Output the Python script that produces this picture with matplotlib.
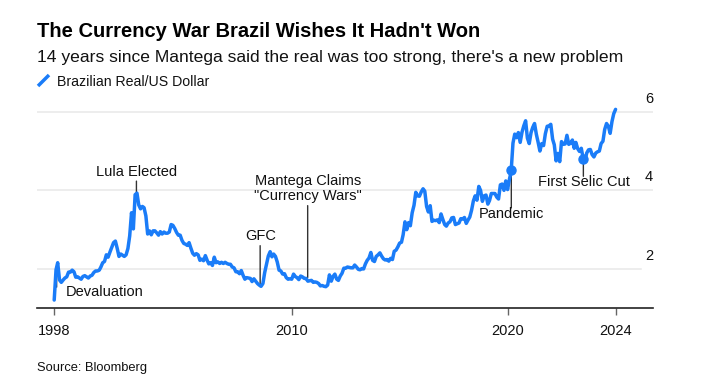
import numpy as np
import pandas as pd
import matplotlib
matplotlib.use('Agg')
import matplotlib.pyplot as plt
from matplotlib.lines import Line2D

plt.rcParams['font.family'] = ['Liberation Sans', 'DejaVu Sans']

# ---------------- data ----------------
start_date = '1998-12-31'
start_value = 1.21
years = list(range(1999, 2025))
brl_1999 = [1.98, 2.16, 1.72, 1.66, 1.72, 1.77, 1.80, 1.92, 1.92, 1.97, 1.93, 1.79]
brl_2000 = [1.80, 1.77, 1.74, 1.81, 1.83, 1.80, 1.77, 1.82, 1.84, 1.91, 1.95, 1.95]
brl_2001 = [1.97, 2.05, 2.16, 2.19, 2.36, 2.30, 2.43, 2.55, 2.67, 2.71, 2.53, 2.32]
brl_2002 = [2.38, 2.35, 2.32, 2.36, 2.52, 2.84, 3.43, 3.02, 3.89, 3.93, 3.63, 3.53]
brl_2003 = [3.59, 3.56, 3.35, 2.89, 2.97, 2.87, 2.97, 2.97, 2.92, 2.86, 2.95, 2.89]
brl_2004 = [2.94, 2.91, 2.91, 2.94, 3.13, 3.11, 3.03, 2.93, 2.86, 2.86, 2.73, 2.65]
brl_2005 = [2.63, 2.60, 2.67, 2.53, 2.40, 2.35, 2.39, 2.36, 2.22, 2.25, 2.21, 2.34]
brl_2006 = [2.22, 2.13, 2.16, 2.09, 2.30, 2.16, 2.18, 2.14, 2.17, 2.14, 2.17, 2.14]
brl_2007 = [2.12, 2.12, 2.05, 2.03, 1.93, 1.93, 1.88, 1.96, 1.84, 1.74, 1.78, 1.77]
brl_2008 = [1.76, 1.68, 1.75, 1.69, 1.63, 1.59, 1.56, 1.63, 1.91, 2.12, 2.33, 2.44]
brl_2009 = [2.31, 2.38, 2.32, 2.18, 1.97, 1.95, 1.87, 1.88, 1.78, 1.74, 1.75, 1.74]
brl_2010 = [1.87, 1.81, 1.78, 1.73, 1.82, 1.80, 1.76, 1.76, 1.69, 1.70, 1.71, 1.66]
brl_2011 = [1.67, 1.66, 1.63, 1.57, 1.58, 1.56, 1.55, 1.59, 1.85, 1.69, 1.81, 1.87]
brl_2012 = [1.74, 1.71, 1.82, 1.89, 2.02, 2.02, 2.05, 2.04, 2.03, 2.03, 2.10, 2.05]
brl_2013 = [1.99, 1.98, 2.01, 2.00, 2.13, 2.22, 2.28, 2.42, 2.22, 2.19, 2.32, 2.36]
brl_2014 = [2.41, 2.33, 2.26, 2.23, 2.24, 2.20, 2.27, 2.24, 2.45, 2.48, 2.56, 2.66]
brl_2015 = [2.68, 2.87, 3.20, 3.00, 3.18, 3.10, 3.43, 3.62, 3.95, 3.86, 3.85, 3.96]
brl_2016 = [4.04, 3.98, 3.59, 3.45, 3.61, 3.21, 3.24, 3.23, 3.25, 3.18, 3.40, 3.26]
brl_2017 = [3.13, 3.09, 3.17, 3.20, 3.30, 3.31, 3.13, 3.15, 3.17, 3.28, 3.27, 3.31]
brl_2018 = [3.16, 3.24, 3.32, 3.49, 3.73, 3.86, 3.75, 4.10, 4.00, 3.72, 3.86, 3.88]
brl_2019 = [3.65, 3.74, 3.92, 3.92, 3.92, 3.83, 3.78, 4.14, 4.16, 4.00, 4.24, 4.02]
brl_2020 = [4.28, 4.48, 5.20, 5.43, 5.34, 5.47, 5.22, 5.48, 5.64, 5.77, 5.33, 5.19]
brl_2021 = [5.47, 5.60, 5.70, 5.43, 5.22, 5.00, 5.19, 5.14, 5.44, 5.63, 5.64, 5.68]
brl_2022 = [5.30, 5.16, 4.75, 4.94, 4.73, 5.24, 5.17, 5.18, 5.40, 5.17, 5.20, 5.28]
brl_2023 = [5.07, 5.22, 5.06, 4.99, 5.07, 4.82, 4.75, 4.95, 5.03, 5.04, 4.91, 4.85]
brl_2024 = [4.95, 4.98, 5.00, 5.19, 5.25, 5.55, 5.70, 5.63, 5.45, 5.75, 5.95, 6.06]
values_by_year = [brl_1999, brl_2000, brl_2001, brl_2002, brl_2003, brl_2004,
                  brl_2005, brl_2006, brl_2007, brl_2008, brl_2009, brl_2010,
                  brl_2011, brl_2012, brl_2013, brl_2014, brl_2015, brl_2016,
                  brl_2017, brl_2018, brl_2019, brl_2020, brl_2021, brl_2022,
                  brl_2023, brl_2024]

event_labels = ['Devaluation', 'Lula Elected', 'GFC',
                'Mantega Claims\n"Currency Wars"', 'Pandemic', 'First Selic Cut']
event_dates = ['1999-02-10', '2002-10-22', '2008-07-15',
               '2010-09-27', '2020-03-03', '2023-07-05']
event_values = [1.92, 3.93, 1.55, 1.78, 4.52, 4.79]
event_dots = [False, False, False, False, True, True]

x_tick_dates = ['1998-12-31', '2010-01-01', '2020-01-01', '2024-12-31']
x_tick_labels = ['1998', '2010', '2020', '2024']
y_ticks = [2, 4, 6]

title = "The Currency War Brazil Wishes It Hadn't Won"
subtitle = "14 years since Mantega said the real was too strong, there's a new problem"
legend_label = 'Brazilian Real/US Dollar'
source = 'Source: Bloomberg'

# ---------------- build series ----------------
dates = [pd.Timestamp(start_date)]
values = [start_value]
for yr, vals in zip(years, values_by_year):
    for m, v in enumerate(vals, start=1):
        dates.append(pd.Timestamp(year=yr, month=m, day=1) + pd.offsets.MonthEnd(0))
        values.append(v)
series = pd.Series(values, index=pd.DatetimeIndex(dates))

# ---------------- figure ----------------
W, H = 706, 390
fig = plt.figure(figsize=(W / 100, H / 100), dpi=100)
fig.patch.set_facecolor('white')

ax_left, ax_right, ax_bottom, ax_top = 37, 653, 308.3, 96
ax = fig.add_axes([ax_left / W, 1 - ax_bottom / H,
                   (ax_right - ax_left) / W, (ax_bottom - ax_top) / H])

BLUE = '#1a7cf8'
DARK = '#333333'

ax.set_ylim(1.0, 6.4)
ax.set_xlim(pd.Timestamp('1998-03-15'), pd.Timestamp('2026-09-25'))

for yt in y_ticks:
    ax.axhline(yt, color='#e8e8e8', lw=1.1, zorder=0,
               xmax=0.98 if yt == 2 else 1.0)
    ax.annotate(str(yt), xy=(1.0, yt), xycoords=('axes fraction', 'data'),
                xytext=(0, 6), textcoords='offset pixels',
                ha='right', va='bottom', fontsize=10.5, color='#111111')

ax.plot(series.index, series.values, color=BLUE, lw=2.5, zorder=3,
        solid_joinstyle='round', solid_capstyle='round')

# annotations: (text dx, text dy, leader length, ha)
ann_style = [(9, -20, -15, 'left'),
             (0, 21, 12, 'center'),
             (1, 51, 41, 'center'),
             (0, 89, 72, 'center'),
             (0, -44, -38, 'center'),
             (1, -23, -17, 'center')]
for lab, d, v, dot, (dx, dy, ll, ha) in zip(event_labels, event_dates, event_values,
                                             event_dots, ann_style):
    dt = pd.Timestamp(d)
    ax.annotate('', xy=(dt, v), xytext=(0, ll), textcoords='offset pixels',
                arrowprops=dict(arrowstyle='-', lw=1.0, color=DARK,
                                shrinkA=0, shrinkB=0), zorder=2)
    ax.annotate(lab, xy=(dt, v), xytext=(dx, dy), textcoords='offset pixels',
                ha=ha, va='center', fontsize=10.5, color='#111111',
                linespacing=1.05, zorder=5)
    if dot:
        ax.plot([dt], [v], 'o', color=BLUE, ms=6.5, zorder=4)

for s in ['top', 'right', 'left']:
    ax.spines[s].set_visible(False)
ax.spines['bottom'].set_color('#222222')
ax.spines['bottom'].set_linewidth(1.2)
ax.set_yticks([])
ax.set_xticks([pd.Timestamp(d) for d in x_tick_dates])
ax.set_xticklabels(x_tick_labels)
ax.tick_params(axis='x', length=5, width=1, color='#666666', pad=6,
               labelsize=10.5, labelcolor='#111111')

# ---------------- header / footer ----------------
fig.text(37 / W, 1 - 36.7 / H, title, fontsize=14.5, fontweight='bold',
         ha='left', va='baseline', color='#000000')
fig.text(37 / W, 1 - 62.3 / H, subtitle, fontsize=12.6,
         ha='left', va='baseline', color='#111111')
fig.add_artist(Line2D([38 / W, 49 / W], [1 - 86 / H, 1 - 75 / H],
                      color=BLUE, lw=2.5, solid_capstyle='butt'))
fig.text(56.7 / W, 1 - 86 / H, legend_label, fontsize=10.2,
         ha='left', va='baseline', color='#111111')
fig.text(37 / W, 1 - 371 / H, source, fontsize=9.3,
         ha='left', va='baseline', color='#111111')

fig.savefig('out.png', dpi=100, facecolor='white')
